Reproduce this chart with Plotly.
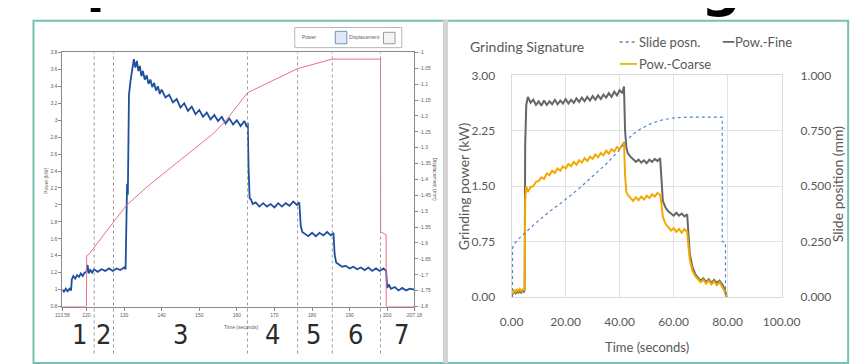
import plotly.graph_objects as go

W, H = 863, 364


def px(x):
    return x / W


def py(y):
    return 1 - y / H


# ---------------- Left panel data (LabVIEW-style graph) ----------------
power_t = [113.6, 114.0, 114.5, 115.0, 115.5, 115.9, 116.1, 116.5, 117.0, 117.5, 118.0, 118.5, 119.0, 119.5,
           120.0, 120.3, 120.6, 121.0, 121.5, 122.0, 123.0, 124.0, 125.0, 126.0, 127.0, 128.0, 129.0, 130.0,
           130.4, 130.6, 130.8, 131.0, 131.3, 131.7, 132.2, 132.6, 133.0, 133.4, 133.8, 134.2, 134.6, 135.0,
           135.5, 136.0, 136.5, 137.0, 137.5, 138.0, 138.5, 139.0, 139.5, 140.0, 141.0, 142.0, 143.0, 144.0,
           145.0, 146.0, 147.0, 148.0, 149.0, 150.0, 151.0, 152.0, 153.0, 154.0, 155.0, 156.0, 157.0, 158.0,
           159.0, 160.0, 161.0, 162.0, 162.6, 162.9, 163.1, 163.4, 163.8, 164.2, 165.0, 166.0, 167.0, 168.0,
           169.0, 170.0, 171.0, 172.0, 173.0, 174.0, 175.0, 176.0, 176.6, 177.0, 177.4, 178.0, 179.0, 180.0,
           181.0, 182.0, 183.0, 184.0, 185.0, 185.7, 186.0, 186.4, 187.0, 188.0, 189.0, 190.0, 191.0, 192.0,
           193.0, 194.0, 195.0, 196.0, 197.0, 198.0, 199.0, 199.7, 200.0, 200.4, 201.0, 202.0, 203.0, 204.0,
           205.0, 206.0, 207.2]
power_kw = [1.0, 0.97, 1.01, 0.98, 1.01, 0.99, 1.12, 1.16, 1.13, 1.17, 1.15, 1.19, 1.16, 1.2,
            1.21, 1.29, 1.19, 1.23, 1.2, 1.24, 1.21, 1.24, 1.22, 1.25, 1.22, 1.25, 1.23, 1.26,
            1.24, 2.05, 2.25, 2.12, 3.3, 3.46, 3.58, 3.72, 3.62, 3.7, 3.58, 3.64, 3.52, 3.58,
            3.48, 3.53, 3.43, 3.48, 3.39, 3.44, 3.35, 3.4, 3.31, 3.36, 3.27, 3.3, 3.21, 3.25,
            3.15, 3.2, 3.11, 3.16, 3.07, 3.12, 3.04, 3.09, 3.01, 3.06, 2.99, 3.04, 2.96, 3.02,
            2.95, 3.0, 2.93, 2.99, 2.92, 2.97, 2.45, 2.08, 2.06, 2.01, 2.03, 1.98, 2.02, 1.98,
            2.01, 1.97, 2.02, 1.98, 2.02, 1.99, 2.04, 2.0, 2.03, 1.75, 1.68, 1.66, 1.63, 1.67,
            1.63, 1.67, 1.64, 1.68, 1.64, 1.67, 1.42, 1.32, 1.3, 1.27, 1.28, 1.25, 1.27, 1.24,
            1.26, 1.23, 1.26, 1.22, 1.25, 1.22, 1.25, 1.22, 1.02, 1.06, 1.01, 1.03, 0.99, 1.02,
            0.99, 1.01, 1.0]

disp_t = [113.6, 120.0, 120.05, 120.77, 127.18, 130.51, 136.41, 145.13, 153.59, 156.92, 162.05, 162.82,
          176.15, 185.38, 198.21, 198.25, 199.7, 199.74, 207.2]
disp_mm = [-1.8, -1.8, -1.64, -1.634, -1.534, -1.483, -1.42, -1.338, -1.257, -1.217, -1.136, -1.127,
           -1.051, -1.021, -1.021, -1.565, -1.574, -1.8, -1.8]

phase_bounds = [122.05, 127.18, 162.82, 176.15, 185.38, 198.21]
phase_labels = ["1", "2", "3", "4", "5", "6", "7"]
phase_label_t = [118.2, 124.4, 145.1, 169.5, 180.5, 191.5, 203.8]

left_x_ticks = [113.6, 120, 130, 140, 150, 160, 170, 180, 190, 200, 207.2]
left_x_ticktext = ["113.58", "120", "130", "140", "150", "160", "170", "180", "190", "200", "207.18"]
power_ticks = [0.8, 1.0, 1.2, 1.4, 1.6, 1.8, 2.0, 2.2, 2.4, 2.6, 2.8, 3.0, 3.2, 3.4, 3.6, 3.8]
power_ticktext = ["0.8", "1", "1.2", "1.4", "1.6", "1.8", "2", "2.2", "2.4", "2.6", "2.8", "3",
                  "3.2", "3.4", "3.6", "3.8"]
disp_ticks = [-1.8, -1.75, -1.7, -1.65, -1.6, -1.55, -1.5, -1.45, -1.4, -1.35, -1.3, -1.25, -1.2,
              -1.15, -1.1, -1.05, -1.0]
disp_ticktext = ["-1.8", "-1.75", "-1.7", "-1.65", "-1.6", "-1.55", "-1.5", "-1.45", "-1.4", "-1.35",
                 "-1.3", "-1.25", "-1.2", "-1.15", "-1.1", "-1.05", "-1"]

# ---------------- Right panel data (Grinding Signature) ----------------
t_grind = [0, 0.5, 1, 1.5, 2, 2.5, 3, 3.5, 4, 4.5, 4.8,
           5.0, 5.4, 6, 7, 8, 9, 10, 11, 12, 13, 14, 15, 16, 17, 18, 19, 20, 21, 22, 23, 24, 25, 26,
           27, 28, 29, 30, 31, 32, 33, 34, 35, 36, 37, 38, 39, 40, 41, 41.6,
           42.0, 42.5, 43, 44, 45, 46, 47, 48, 49, 50, 51, 52, 53, 54, 55,
           55.5, 56, 57, 58, 59, 60, 61, 62, 63, 64, 65,
           65.5, 66, 67, 68, 69, 70, 71, 72, 73, 74, 75, 76, 77, 78, 79, 79.6]
pow_fine = [0.03, 0.05, 0.07, 0.05, 0.08, 0.06, 0.08, 0.06, 0.09, 0.07, 0.09,
            2.05, 2.6, 2.71, 2.63, 2.67, 2.6, 2.65, 2.59, 2.66, 2.6, 2.65, 2.61, 2.67, 2.61, 2.66, 2.62,
            2.68, 2.62, 2.67, 2.63, 2.69, 2.64, 2.7, 2.65, 2.71, 2.66, 2.72, 2.67, 2.73, 2.68, 2.74, 2.7,
            2.76, 2.71, 2.78, 2.73, 2.8, 2.76, 2.85,
            2.25, 2.02, 1.95, 1.9, 1.86, 1.83, 1.86, 1.82, 1.85, 1.81, 1.86, 1.83, 1.87, 1.84, 1.88,
            1.55, 1.3, 1.21, 1.16, 1.13, 1.1, 1.14, 1.1, 1.13, 1.09, 1.12,
            0.85, 0.58, 0.4, 0.31, 0.26, 0.22, 0.25, 0.2, 0.24, 0.19, 0.23, 0.19, 0.22, 0.17, 0.1, 0.0]
pow_coarse = [0.02, 0.06, 0.09, 0.07, 0.1, 0.08, 0.11, 0.08, 0.1, 0.09, 0.12,
              1.3, 1.5, 1.42, 1.49, 1.5, 1.56, 1.57, 1.62, 1.6, 1.67, 1.65, 1.71, 1.68, 1.74, 1.71, 1.77,
              1.74, 1.8, 1.77, 1.83, 1.79, 1.85, 1.82, 1.88, 1.84, 1.9, 1.87, 1.93, 1.89, 1.95, 1.92, 1.98,
              1.94, 2.0, 1.97, 2.03, 2.0, 2.06, 2.1,
              1.65, 1.42, 1.38, 1.34, 1.3, 1.35, 1.31, 1.36, 1.32, 1.37, 1.34, 1.39, 1.36, 1.41, 1.38,
              1.25, 1.08, 0.99, 0.94, 0.9, 0.93, 0.88, 0.92, 0.87, 0.92, 0.88,
              0.68, 0.5, 0.35, 0.28, 0.24, 0.2, 0.23, 0.18, 0.22, 0.17, 0.21, 0.16, 0.2, 0.14, 0.07, 0.0]
t_slide = [0.3, 0.3, 1, 2, 5, 10, 15, 20, 25, 30, 35, 40, 42, 45, 48, 52, 56, 60, 65, 70, 78.0, 78.0,
           79.2, 79.2]
slide_mm = [0, 0.22, 0.24, 0.255, 0.29, 0.345, 0.395, 0.44, 0.49, 0.545, 0.6, 0.665, 0.7, 0.735, 0.76,
            0.785, 0.8, 0.808, 0.812, 0.812, 0.812, 0.25, 0.245, 0]

grind_x_ticks = [0, 20, 40, 60, 80, 100]
grind_x_ticktext = ["0.00", "20.00", "40.00", "60.00", "80.00", "100.00"]
grind_pow_ticks = [0, 0.75, 1.5, 2.25, 3.0]
grind_pow_ticktext = ["0.00", "0.75", "1.50", "2.25", "3.00"]
slide_ticks = [0, 0.25, 0.5, 0.75, 1.0]
slide_ticktext = ["0.000", "0.250", "0.500", "0.750", "1.000"]

# ---------------- colours / fonts ----------------
TEAL = "#74c1b4"
POWER_BLUE = "#1f4f9f"
DISP_RED = "#ec6f86"
SLIDE_BLUE = "#4f86c6"
FINE_GREY = "#666666"
COARSE = "#f2a900"
XL_TEXT = "#595959"
XL_FONT = "Lato, Liberation Sans, sans-serif"
LV_FONT = "Liberation Sans, sans-serif"
LV_TEXT = "#606060"

fig = go.Figure()

# Left panel traces
fig.add_trace(go.Scatter(x=disp_t, y=disp_mm, mode="lines", xaxis="x", yaxis="y2",
                         line=dict(color=DISP_RED, width=1), name="Displacement"))
fig.add_trace(go.Scatter(x=power_t, y=power_kw, mode="lines", xaxis="x", yaxis="y",
                         line=dict(color=POWER_BLUE, width=1.8), name="Power"))

# Right panel traces
fig.add_trace(go.Scatter(x=t_slide, y=slide_mm, mode="lines", xaxis="x2", yaxis="y4",
                         line=dict(color=SLIDE_BLUE, width=1.2, dash="dot"), name="Slide posn."))
fig.add_trace(go.Scatter(x=t_grind, y=pow_fine, mode="lines", xaxis="x2", yaxis="y3",
                         line=dict(color=FINE_GREY, width=2), name="Pow.-Fine"))
fig.add_trace(go.Scatter(x=t_grind, y=pow_coarse, mode="lines", xaxis="x2", yaxis="y3",
                         line=dict(color=COARSE, width=2), name="Pow.-Coarse"))

lv_tick = dict(size=5, color=LV_TEXT, family=LV_FONT)
xl_tick = dict(size=12, color=XL_TEXT, family=XL_FONT)

fig.update_layout(
    width=W, height=H,
    margin=dict(l=0, r=0, t=0, b=0),
    paper_bgcolor="white", plot_bgcolor="white",
    showlegend=False,
    xaxis=dict(domain=[px(44), px(409)], anchor="y", range=[113.6, 207.2],
               tickmode="array", tickvals=left_x_ticks, ticktext=left_x_ticktext,
               ticks="outside", ticklen=3, tickcolor="#888", tickfont=lv_tick,
               showline=True, linecolor="#8a8a8a", linewidth=1, mirror=True,
               showgrid=False, zeroline=False),
    yaxis=dict(domain=[py(303), py(38)], anchor="x", range=[0.8, 3.8],
               tickmode="array", tickvals=power_ticks, ticktext=power_ticktext,
               ticks="outside", ticklen=3, tickcolor="#888", tickfont=lv_tick,
               showline=True, linecolor="#8a8a8a", linewidth=1,
               showgrid=False, zeroline=False),
    yaxis2=dict(overlaying="y", side="right", anchor="x", range=[-1.8, -1.0],
                tickmode="array", tickvals=disp_ticks, ticktext=disp_ticktext,
                ticks="outside", ticklen=3, tickcolor="#888", tickfont=lv_tick,
                showline=True, linecolor="#8a8a8a", linewidth=1,
                showgrid=False, zeroline=False),
    xaxis2=dict(domain=[px(510), px(790)], anchor="y3", range=[0, 100],
                tickmode="array", tickvals=grind_x_ticks, ticktext=grind_x_ticktext,
                ticks="", tickfont=xl_tick, ticklabelstandoff=14,
                showgrid=True, gridcolor="#e2e2e2", gridwidth=1,
                showline=True, linecolor="#dadada", mirror=True, zeroline=False),
    yaxis3=dict(domain=[py(293), py(62)], anchor="x2", range=[0, 3],
                tickmode="array", tickvals=grind_pow_ticks, ticktext=grind_pow_ticktext,
                ticks="", tickfont=xl_tick, ticklabelstandoff=13,
                showgrid=True, gridcolor="#e2e2e2", gridwidth=1,
                showline=True, linecolor="#dadada", mirror=True, zeroline=False),
    yaxis4=dict(overlaying="y3", side="right", anchor="x2", range=[0, 1],
                tickmode="array", tickvals=slide_ticks, ticktext=slide_ticktext,
                ticks="", tickfont=xl_tick, ticklabelstandoff=18,
                showgrid=False, zeroline=False),
)

shapes = []
# panel frames
shapes.append(dict(type="rect", xref="paper", yref="paper", x0=px(14), x1=px(440), y0=py(362), y1=py(5),
                   line=dict(color=TEAL, width=2), layer="above"))
shapes.append(dict(type="rect", xref="paper", yref="paper", x0=px(442), x1=px(859), y0=py(362), y1=py(5),
                   line=dict(color=TEAL, width=2), layer="above"))
shapes.append(dict(type="rect", xref="paper", yref="paper", x0=px(439), x1=px(444), y0=py(362), y1=py(4),
                   line=dict(width=0), fillcolor="#d4d4d4", layer="above"))
# phase boundary lines
for tb in phase_bounds:
    shapes.append(dict(type="line", xref="x", yref="paper", x0=tb, x1=tb, y0=py(352), y1=py(38),
                       line=dict(color="#9a9a9a", width=1, dash="dot"), layer="above"))
# left legend box
shapes.append(dict(type="rect", xref="paper", yref="paper", x0=px(285), x1=px(396), y0=py(33), y1=py(12),
                   line=dict(color="#b8b8b8", width=1), fillcolor="white"))
shapes.append(dict(type="rect", xref="paper", yref="paper", x0=px(327), x1=px(339), y0=py(29), y1=py(16),
                   line=dict(color="#6f93c0", width=1), fillcolor="#dfeaf7"))
shapes.append(dict(type="rect", xref="paper", yref="paper", x0=px(377), x1=px(389), y0=py(29), y1=py(17),
                   line=dict(color="#9a9a9a", width=1), fillcolor="#f3f3f3"))
# right legend samples
shapes.append(dict(type="line", xref="paper", yref="paper", x0=px(622), x1=px(640), y0=py(27), y1=py(27),
                   line=dict(color=SLIDE_BLUE, width=1.5, dash="dot")))
shapes.append(dict(type="line", xref="paper", yref="paper", x0=px(729), x1=px(741), y0=py(27), y1=py(27),
                   line=dict(color=FINE_GREY, width=1.8)))
shapes.append(dict(type="line", xref="paper", yref="paper", x0=px(622), x1=px(640), y0=py(50), y1=py(50),
                   line=dict(color="#d9c000", width=1.8)))

annotations = []


def ann(text, x, y, size, color, family, xanchor="center", yanchor="middle", angle=0, xref="paper",
        bold=False):
    annotations.append(dict(text=("<b>%s</b>" % text) if bold else text, x=x, y=y, xref=xref, yref="paper",
                            showarrow=False, xanchor=xanchor, yanchor=yanchor, textangle=angle,
                            borderpad=0, borderwidth=0,
                            font=dict(size=size, color=color, family=family)))


# cropped headline descenders (the headline itself lies above the picture)
ann("p", px(89), py(-3), 56, "black", "DejaVu Sans", xanchor="center", yanchor="bottom", bold=True)
ann("g", px(727), py(2), 56, "black", "DejaVu Sans", xanchor="center", yanchor="bottom", bold=True)

# left panel texts
ann("Power", px(292), py(22), 5, LV_TEXT, LV_FONT, xanchor="left")
ann("Displacement", px(341), py(22), 5, LV_TEXT, LV_FONT, xanchor="left")
ann("Time (seconds)", px(230), py(324), 5, LV_TEXT, LV_FONT)
ann("Power (kW)", px(27), py(172), 5, LV_TEXT, LV_FONT, angle=-90)
ann("Displacement (mm)", px(430), py(170), 5, LV_TEXT, LV_FONT, angle=90)
for lab, tl in zip(phase_labels, phase_label_t):
    annotations.append(dict(text=lab, x=tl, y=py(332), xref="x", yref="paper", showarrow=False,
                            xanchor="center", yanchor="middle",
                            font=dict(size=27, color="#2b2b2b",
                                      family="Liberation Sans Narrow, DejaVu Sans Condensed, Liberation Sans")))

# right panel texts
ann("Grinding Signature", px(467), py(32), 14, XL_TEXT, XL_FONT, xanchor="left")
ann("Slide posn.", px(642), py(27), 13, XL_TEXT, XL_FONT, xanchor="left")
ann("Pow.-Fine", px(742), py(27), 13, XL_TEXT, XL_FONT, xanchor="left")
ann("Pow.-Coarse", px(642), py(50), 13, XL_TEXT, XL_FONT, xanchor="left")
ann("Time (seconds)", px(650), py(345), 13, XL_TEXT, XL_FONT)
ann("Grinding power (kW)", px(460), py(177), 14, XL_TEXT, XL_FONT, angle=-90)
ann("Slide position (mm)", px(848), py(175), 14, XL_TEXT, XL_FONT, angle=-90)

fig.update_layout(shapes=shapes, annotations=annotations)

fig.write_html("out.html")
